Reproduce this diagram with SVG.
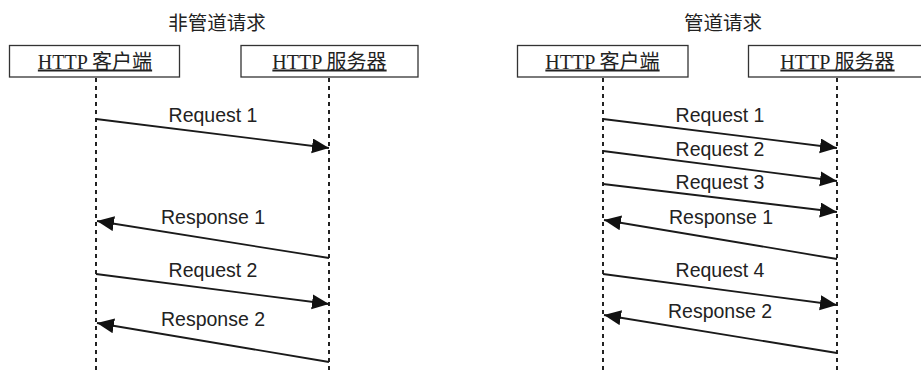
<svg xmlns="http://www.w3.org/2000/svg" width="921" height="374" viewBox="0 0 921 374">
  <style>
    .title { font-family: "Liberation Serif", "Noto Sans CJK SC", serif; font-size: 19.5px; fill: #222; text-anchor: middle; }
    .box { fill: #fff; stroke: #333; stroke-width: 1.3; }
    .boxlabel { font-family: "Liberation Serif", "Noto Sans CJK SC", serif; font-size: 20px; fill: #222; text-anchor: middle; text-decoration: underline; }
    .life { stroke: #222; stroke-width: 2; stroke-dasharray: 4 4; fill: none; }
    .msg { stroke: #1a1a1a; stroke-width: 1.8; fill: none; marker-end: url(#arrow); }
    .label { font-family: "Liberation Sans", Arial, sans-serif; font-size: 19.5px; fill: #222; text-anchor: middle; }
  </style>
  <defs>
    <marker id="arrow" markerUnits="userSpaceOnUse" markerWidth="18" markerHeight="16" refX="17" refY="7.5" orient="auto">
      <path d="M0,0 L17,7.5 L0,15 z" fill="#111"/>
    </marker>
  </defs>
  <rect width="921" height="374" fill="#fff"/>

  <!-- Non-pipelined panel -->
  <text class="title" x="217" y="30">非管道请求</text>
  <g id="np-client">
    <rect class="box" x="9.5" y="45.5" width="170" height="31.5"/>
    <text class="boxlabel" x="95" y="68.5">HTTP 客户端</text>
    <line class="life" x1="96" y1="78" x2="96" y2="374"/>
  </g>
  <g id="np-server">
    <rect class="box" x="241" y="45.5" width="177" height="31.5"/>
    <text class="boxlabel" x="329.5" y="68.5">HTTP 服务器</text>
    <line class="life" x1="329" y1="78" x2="329" y2="374"/>
  </g>

  <!-- Pipelined panel -->
  <text class="title" x="723" y="30">管道请求</text>
  <g id="p-client">
    <rect class="box" x="517.5" y="45.5" width="170.5" height="31.5"/>
    <text class="boxlabel" x="602.5" y="68.5">HTTP 客户端</text>
    <line class="life" x1="603" y1="78" x2="603" y2="374"/>
  </g>
  <g id="p-server">
    <rect class="box" x="748.5" y="45.5" width="180" height="31.5"/>
    <text class="boxlabel" x="837.5" y="68.5">HTTP 服务器</text>
    <line class="life" x1="837" y1="78" x2="837" y2="374"/>
  </g>

  <g id="connectors">
    <!-- non-pipelined exchange -->
    <line class="msg" x1="96" y1="119" x2="329" y2="148"/>
    <line class="msg" x1="329" y1="258" x2="97" y2="221"/>
    <line class="msg" x1="96" y1="274" x2="329" y2="304"/>
    <line class="msg" x1="329" y1="362" x2="97" y2="323"/>
    <!-- pipelined exchange -->
    <line class="msg" x1="603" y1="119" x2="837" y2="148"/>
    <line class="msg" x1="603" y1="151" x2="837" y2="181"/>
    <line class="msg" x1="603" y1="184" x2="837" y2="212"/>
    <line class="msg" x1="837" y1="259" x2="604" y2="220"/>
    <line class="msg" x1="603" y1="274" x2="837" y2="305"/>
    <line class="msg" x1="837" y1="353" x2="604" y2="315"/>
  </g>

  <g id="labels">
    <text class="label" x="213" y="122">Request 1</text>
    <text class="label" x="213" y="224">Response 1</text>
    <text class="label" x="213" y="277">Request 2</text>
    <text class="label" x="213" y="326">Response 2</text>
    <text class="label" x="720" y="122">Request 1</text>
    <text class="label" x="720" y="156">Request 2</text>
    <text class="label" x="720" y="189">Request 3</text>
    <text class="label" x="721" y="224">Response 1</text>
    <text class="label" x="720" y="277">Request 4</text>
    <text class="label" x="720" y="318">Response 2</text>
  </g>
</svg>
